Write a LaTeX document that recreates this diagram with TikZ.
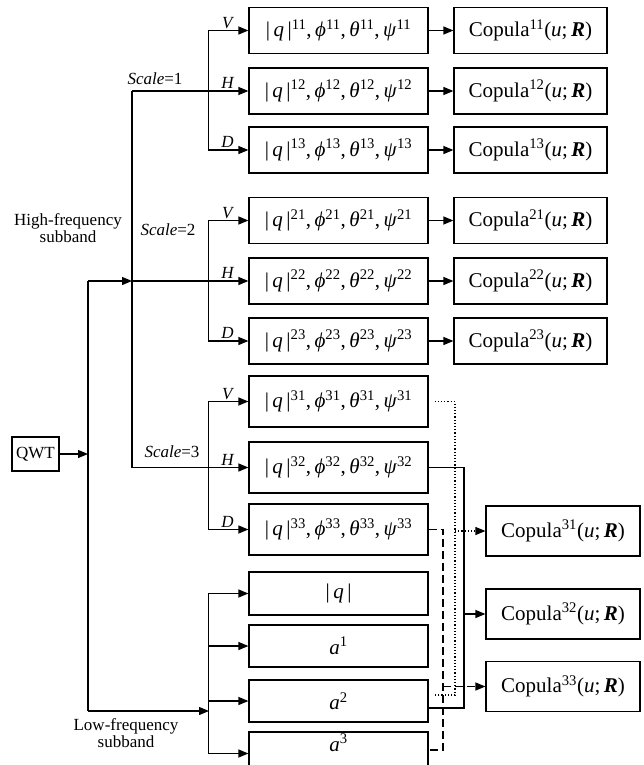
\documentclass[tikz,border=0pt]{standalone}
\usepackage{fontspec}
\setmainfont{Liberation Serif}
\usetikzlibrary{arrows.meta}
\newcommand\qset[1]{|\,\textit{q}\,|\textsuperscript{#1},\,\textit{ϕ}\textsuperscript{#1},\,\textit{θ}\textsuperscript{#1},\,\textit{ψ}\textsuperscript{#1}}
\newcommand\cop[1]{Copula\textsuperscript{#1}(\textit{u};\,\textbf{\textit{R}})}
\newcommand\asup[1]{\textit{a}\textsuperscript{#1}}
\begin{document}
\begin{tikzpicture}[x=1pt,y=-1pt,
  every node/.style={font=\fontsize{17}{19}\selectfont, inner sep=0pt},
  bx/.style={draw, line width=1.2pt, font=\fontsize{21}{24}\selectfont},
  lbox/.style={bx, minimum width=179pt, minimum height=46pt},
  cbox/.style={bx, minimum width=153pt, minimum height=46pt},
  arr/.style={line width=1.2pt, -{Triangle[length=10pt,width=8pt]}},
  ln/.style={line width=1.2pt},
  lab/.style={font=\itshape\fontsize{17}{19}\selectfont, anchor=south, inner sep=2pt}]
\useasboundingbox (0,0) rectangle (644,765);
% left boxes
\node[lbox] (b11) at (338.5,30.5) {\qset{11}};
\node[lbox] (b12) at (338.5,91) {\qset{12}};
\node[lbox] (b13) at (338.5,150) {\qset{13}};
\node[lbox] (b21) at (338.5,220.5) {\qset{21}};
\node[lbox] (b22) at (338.5,281) {\qset{22}};
\node[lbox] (b23) at (338.5,341) {\qset{23}};
\node[lbox, minimum height=51pt] (b31) at (338.5,401.5) {\qset{31}};
\node[lbox, minimum height=51pt] (b32) at (338.5,467.5) {\qset{32}};
\node[lbox, minimum height=51pt] (b33) at (338.5,529.5) {\qset{33}};
\node[lbox, minimum height=43pt] (lq) at (338.5,593.5) {|\,\textit{q}\,|};
\node[lbox, minimum height=42pt] (la1) at (338.5,646) {\asup{1}};
\node[lbox, minimum height=42pt] (la2) at (338.5,701) {\asup{2}};
\node[lbox, minimum height=43pt] (la3) at (338.5,753.5) {\raisebox{2pt}[0pt][0pt]{\asup{3}}};
% copula boxes
\node[cbox] (c11) at (530.5,30.5) {\cop{11}};
\node[cbox] (c12) at (530.5,91) {\cop{12}};
\node[cbox] (c13) at (530.5,150) {\cop{13}};
\node[cbox] (c21) at (530.5,220.5) {\cop{21}};
\node[cbox] (c22) at (530.5,281) {\cop{22}};
\node[cbox] (c23) at (530.5,341) {\cop{23}};
\node[cbox, minimum width=154pt, minimum height=50pt] (c31) at (563,531) {\cop{31}};
\node[cbox, minimum width=154pt, minimum height=50pt] (c32) at (563,614) {\cop{32}};
\node[cbox, minimum width=154pt, minimum height=50pt] (c33) at (563,686.5) {\cop{33}};
% QWT
\node[draw, line width=1.2pt, minimum width=47pt, minimum height=34pt] (qwt) at (35.5,454) {QWT};
% labels
\node at (68,230) {\begin{tabular}{@{}c@{}}High-frequency\\[-2pt]subband\end{tabular}};
\node at (126,735) {\begin{tabular}{@{}c@{}}Low-frequency\\[-2pt]subband\end{tabular}};
\node at (155,79) {\textit{Scale}=1};
\node at (168,230) {\textit{Scale}=2};
\node at (172,452) {\textit{Scale}=3};
% coordinates
\coordinate (j0) at (88,454);
\coordinate (ht) at (88,281);
\coordinate (lb) at (88,711);
\coordinate (hf) at (132,281);
\coordinate (s1) at (hf |- b12.west);
\coordinate (s3) at (hf |- b32.west);
\coordinate (lf) at (209,711);
\foreach \b in {b11,b12,b13,b21,b22,b23,b31,b32,b33,lq,la1,la2,la3}
  \coordinate (\b-in) at ([xshift=-40pt]\b.west);
% QWT and main buses
\draw[arr] (qwt) -- (j0);
\draw[ln] (ht) -- (lb);
\draw[arr] (ht) -- (hf);
\draw[arr] (lb) -- (lf);
\draw[ln] (s1) -- (s3);
\draw[arr] (s1) -- (b12.west);
\draw[arr] (hf) -- (b22.west);
\draw[arr] (s3) -- (b32.west);
% branch buses
\draw[ln] (b11-in) -- (b13-in);
\draw[ln] (b21-in) -- (b23-in);
\draw[ln] (b31-in) -- (b33-in);
\draw[ln] (lq-in) -- (la3-in);
\foreach \b in {b11,b13,b21,b23,b31,b33,lq,la1,la2,la3}
  \draw[arr] (\b-in) -- (\b.west);
% V H D labels
\foreach \g in {1,2,3}{
  \node[lab] at ([xshift=-21pt]b\g1.west) {V};
  \node[lab] at ([xshift=-21pt]b\g2.west) {H};
  \node[lab] at ([xshift=-21pt]b\g3.west) {D};
}
% copula arrows
\foreach \r in {11,12,13,21,22,23}
  \draw[arr] (b\r.east) -- (c\r.west);
% right side connectors
\coordinate (xs) at (464,0);
\coordinate (xd) at (455,0);
\coordinate (xa) at (443,0);
\coordinate (a2s) at ([yshift=-7pt]la2.east);
\coordinate (a2d) at ([yshift=6pt]la2.east);
\coordinate (a3e) at ([yshift=3.5pt]la3.east);
\draw[ln] (b32.east) -- (xs |- b32.east) -- (xs |- a2s) -- (a2s);
\draw[arr] (xs |- c32.west) -- (c32.west);
\draw[ln, dotted] ([xshift=6pt]b31.east) -- (xd |- b31.east) -- (xd |- a2d) -- ([xshift=6pt]a2d);
\draw[arr, dotted] (xd |- c31.west) -- (c31.west);
\draw[ln, dash pattern=on 8pt off 4pt] (b33.east) -- (xa |- b33.east) -- (xa |- a3e) -- (a3e);
\draw[arr, dash pattern=on 8pt off 4pt] (xa |- c33.west) -- (c33.west);
\end{tikzpicture}
\end{document}
